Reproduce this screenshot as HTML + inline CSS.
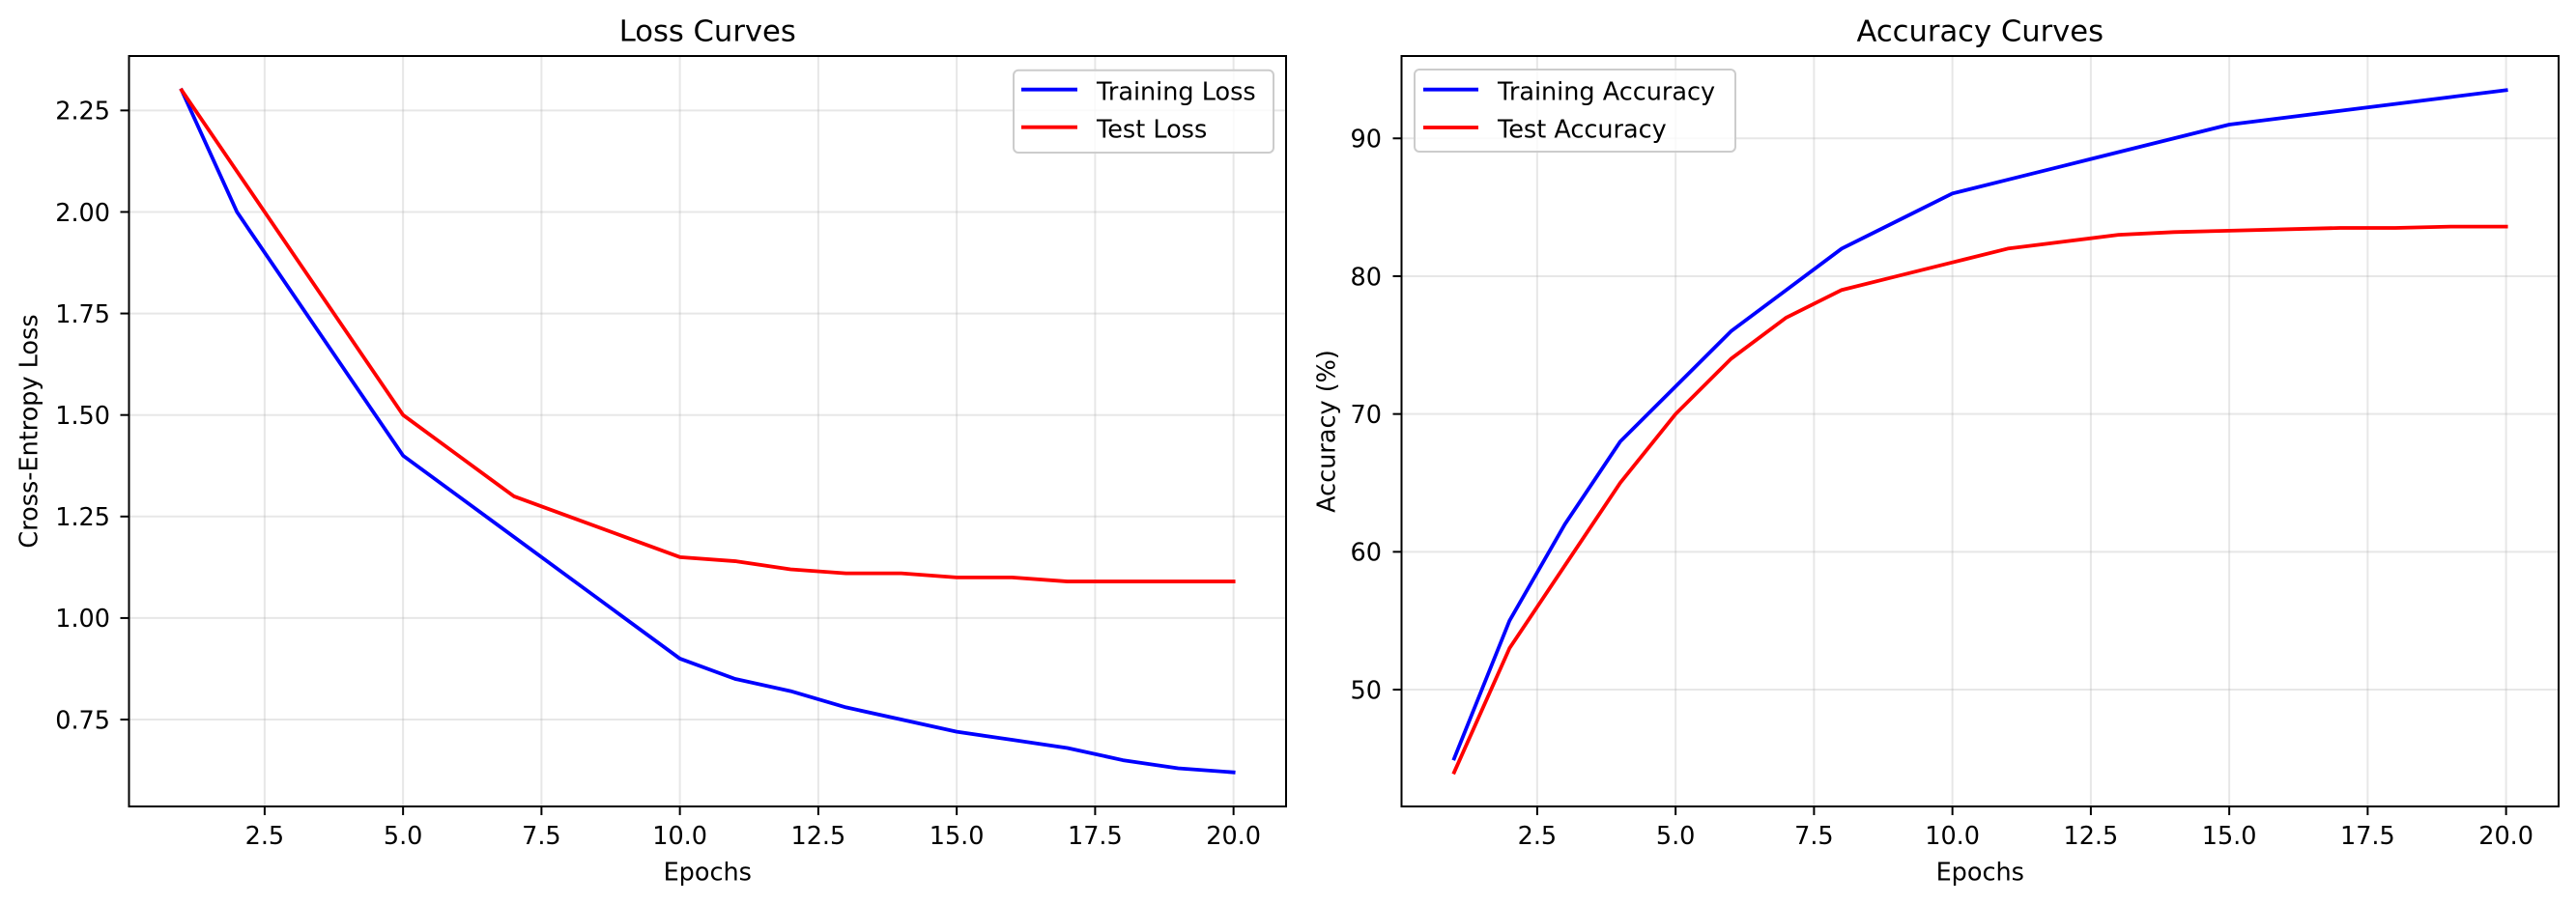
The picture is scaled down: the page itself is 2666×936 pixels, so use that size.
<!DOCTYPE html>
<html>
<head>
<meta charset="utf-8">
<style>
html,body{margin:0;padding:0;background:#fff;}
svg{display:block;}
text{font-family:"DejaVu Sans","Liberation Sans",sans-serif;fill:#000;}
</style>
</head>
<body>
<svg width="2666" height="936" viewBox="0 0 2666 936" xmlns="http://www.w3.org/2000/svg">
<rect width="2666" height="936" fill="#fff"/>

<!-- ============ LEFT PANEL ============ -->
<g stroke="#b0b0b0" stroke-opacity="0.3" stroke-width="2" fill="none">
  <line x1="273.89" y1="58" x2="273.89" y2="835"/>
  <line x1="417.14" y1="58" x2="417.14" y2="835"/>
  <line x1="560.39" y1="58" x2="560.39" y2="835"/>
  <line x1="703.64" y1="58" x2="703.64" y2="835"/>
  <line x1="846.89" y1="58" x2="846.89" y2="835"/>
  <line x1="990.14" y1="58" x2="990.14" y2="835"/>
  <line x1="1133.39" y1="58" x2="1133.39" y2="835"/>
  <line x1="1276.64" y1="58" x2="1276.64" y2="835"/>
  <line x1="133.5" y1="745.02" x2="1331" y2="745.02"/>
  <line x1="133.5" y1="639.91" x2="1331" y2="639.91"/>
  <line x1="133.5" y1="534.8" x2="1331" y2="534.8"/>
  <line x1="133.5" y1="429.69" x2="1331" y2="429.69"/>
  <line x1="133.5" y1="324.57" x2="1331" y2="324.57"/>
  <line x1="133.5" y1="219.46" x2="1331" y2="219.46"/>
  <line x1="133.5" y1="114.35" x2="1331" y2="114.35"/>
</g>

<polyline fill="none" stroke="#0000ff" stroke-width="3.8" stroke-linejoin="round" stroke-linecap="square"
 points="187.94,93.33 245.24,219.46 302.54,303.55 359.84,387.64 417.14,471.73 474.44,513.78 531.74,555.82 589.04,597.87 646.34,639.91 703.64,681.96 760.94,702.98 818.24,715.59 875.54,732.41 932.84,745.02 990.14,757.64 1047.44,766.05 1104.74,774.46 1162.04,787.07 1219.34,795.48 1276.64,799.68"/>
<polyline fill="none" stroke="#ff0000" stroke-width="3.8" stroke-linejoin="round" stroke-linecap="square"
 points="187.94,93.33 245.24,177.42 302.54,261.51 359.84,345.60 417.14,429.69 474.44,471.73 531.74,513.78 589.04,534.8 646.34,555.82 703.64,576.84 760.94,581.05 818.24,589.46 875.54,593.66 932.84,593.66 990.14,597.87 1047.44,597.87 1104.74,602.07 1162.04,602.07 1219.34,602.07 1276.64,602.07"/>

<rect x="133.5" y="58" width="1197.5" height="777" fill="none" stroke="#000" stroke-width="2"/>
<g stroke="#000" stroke-width="2">
  <line x1="273.89" y1="835" x2="273.89" y2="844"/>
  <line x1="417.14" y1="835" x2="417.14" y2="844"/>
  <line x1="560.39" y1="835" x2="560.39" y2="844"/>
  <line x1="703.64" y1="835" x2="703.64" y2="844"/>
  <line x1="846.89" y1="835" x2="846.89" y2="844"/>
  <line x1="990.14" y1="835" x2="990.14" y2="844"/>
  <line x1="1133.39" y1="835" x2="1133.39" y2="844"/>
  <line x1="1276.64" y1="835" x2="1276.64" y2="844"/>
  <line x1="124.5" y1="745.02" x2="133.5" y2="745.02"/>
  <line x1="124.5" y1="639.91" x2="133.5" y2="639.91"/>
  <line x1="124.5" y1="534.8" x2="133.5" y2="534.8"/>
  <line x1="124.5" y1="429.69" x2="133.5" y2="429.69"/>
  <line x1="124.5" y1="324.57" x2="133.5" y2="324.57"/>
  <line x1="124.5" y1="219.46" x2="133.5" y2="219.46"/>
  <line x1="124.5" y1="114.35" x2="133.5" y2="114.35"/>
</g>
<g font-size="25.5" text-anchor="middle">
  <text x="273.89" y="874">2.5</text>
  <text x="417.14" y="874">5.0</text>
  <text x="560.39" y="874">7.5</text>
  <text x="703.64" y="874">10.0</text>
  <text x="846.89" y="874">12.5</text>
  <text x="990.14" y="874">15.0</text>
  <text x="1133.39" y="874">17.5</text>
  <text x="1276.64" y="874">20.0</text>
</g>
<g font-size="25.5" text-anchor="end">
  <text x="114" y="754.3">0.75</text>
  <text x="114" y="649.2">1.00</text>
  <text x="114" y="544.1">1.25</text>
  <text x="114" y="439">1.50</text>
  <text x="114" y="333.9">1.75</text>
  <text x="114" y="228.8">2.00</text>
  <text x="114" y="123.7">2.25</text>
</g>
<text x="732.25" y="42.7" font-size="30.6" text-anchor="middle">Loss Curves</text>
<text x="732.25" y="911.7" font-size="25.5" text-anchor="middle">Epochs</text>
<text transform="translate(38.5,446.5) rotate(-90)" font-size="25.5" text-anchor="middle">Cross-Entropy Loss</text>

<!-- legend left -->
<rect x="1049" y="72.7" width="269" height="85.3" rx="5" ry="5" fill="#fff" fill-opacity="0.8" stroke="#cccccc" stroke-width="2"/>
<line x1="1057" y1="92.7" x2="1115" y2="92.7" stroke="#0000ff" stroke-width="3.8"/>
<line x1="1057" y1="131.7" x2="1115" y2="131.7" stroke="#ff0000" stroke-width="3.8"/>
<text x="1135" y="103.3" font-size="25.5">Training Loss</text>
<text x="1135" y="142.3" font-size="25.5">Test Loss</text>

<!-- ============ RIGHT PANEL ============ -->
<g stroke="#b0b0b0" stroke-opacity="0.3" stroke-width="2" fill="none">
  <line x1="1590.89" y1="58" x2="1590.89" y2="835"/>
  <line x1="1734.14" y1="58" x2="1734.14" y2="835"/>
  <line x1="1877.39" y1="58" x2="1877.39" y2="835"/>
  <line x1="2020.64" y1="58" x2="2020.64" y2="835"/>
  <line x1="2163.89" y1="58" x2="2163.89" y2="835"/>
  <line x1="2307.14" y1="58" x2="2307.14" y2="835"/>
  <line x1="2450.39" y1="58" x2="2450.39" y2="835"/>
  <line x1="2593.64" y1="58" x2="2593.64" y2="835"/>
  <line x1="1450.5" y1="714.06" x2="2648" y2="714.06"/>
  <line x1="1450.5" y1="571.36" x2="2648" y2="571.36"/>
  <line x1="1450.5" y1="428.66" x2="2648" y2="428.66"/>
  <line x1="1450.5" y1="285.96" x2="2648" y2="285.96"/>
  <line x1="1450.5" y1="143.26" x2="2648" y2="143.26"/>
</g>

<polyline fill="none" stroke="#0000ff" stroke-width="3.8" stroke-linejoin="round" stroke-linecap="square"
 points="1504.94,785.41 1562.24,642.71 1619.54,542.82 1676.84,457.20 1734.14,400.12 1791.44,343.04 1848.74,300.23 1906.04,257.42 1963.34,228.88 2020.64,200.34 2077.94,186.07 2135.24,171.80 2192.54,157.53 2249.84,143.26 2307.14,128.99 2364.44,121.86 2421.74,114.72 2479.04,107.59 2536.34,100.45 2593.64,93.32"/>
<polyline fill="none" stroke="#ff0000" stroke-width="3.8" stroke-linejoin="round" stroke-linecap="square"
 points="1504.94,799.68 1562.24,671.22 1619.54,585.60 1676.84,499.98 1734.14,428.66 1791.44,371.58 1848.74,328.77 1906.04,300.23 1963.34,285.96 2020.64,271.69 2077.94,257.42 2135.24,250.29 2192.54,243.15 2249.84,240.30 2307.14,238.87 2364.44,237.44 2421.74,236.02 2479.04,236.02 2536.34,234.59 2593.64,234.59"/>

<rect x="1450.5" y="58" width="1197.5" height="777" fill="none" stroke="#000" stroke-width="2"/>
<g stroke="#000" stroke-width="2">
  <line x1="1590.89" y1="835" x2="1590.89" y2="844"/>
  <line x1="1734.14" y1="835" x2="1734.14" y2="844"/>
  <line x1="1877.39" y1="835" x2="1877.39" y2="844"/>
  <line x1="2020.64" y1="835" x2="2020.64" y2="844"/>
  <line x1="2163.89" y1="835" x2="2163.89" y2="844"/>
  <line x1="2307.14" y1="835" x2="2307.14" y2="844"/>
  <line x1="2450.39" y1="835" x2="2450.39" y2="844"/>
  <line x1="2593.64" y1="835" x2="2593.64" y2="844"/>
  <line x1="1441.5" y1="714.06" x2="1450.5" y2="714.06"/>
  <line x1="1441.5" y1="571.36" x2="1450.5" y2="571.36"/>
  <line x1="1441.5" y1="428.66" x2="1450.5" y2="428.66"/>
  <line x1="1441.5" y1="285.96" x2="1450.5" y2="285.96"/>
  <line x1="1441.5" y1="143.26" x2="1450.5" y2="143.26"/>
</g>
<g font-size="25.5" text-anchor="middle">
  <text x="1590.89" y="874">2.5</text>
  <text x="1734.14" y="874">5.0</text>
  <text x="1877.39" y="874">7.5</text>
  <text x="2020.64" y="874">10.0</text>
  <text x="2163.89" y="874">12.5</text>
  <text x="2307.14" y="874">15.0</text>
  <text x="2450.39" y="874">17.5</text>
  <text x="2593.64" y="874">20.0</text>
</g>
<g font-size="25.5" text-anchor="end">
  <text x="1430" y="723.4">50</text>
  <text x="1430" y="580.7">60</text>
  <text x="1430" y="438">70</text>
  <text x="1430" y="295.3">80</text>
  <text x="1430" y="152.6">90</text>
</g>
<text x="2049.25" y="42.7" font-size="30.6" text-anchor="middle">Accuracy Curves</text>
<text x="2049.25" y="911.7" font-size="25.5" text-anchor="middle">Epochs</text>
<text transform="translate(1381.7,446.5) rotate(-90)" font-size="25.5" text-anchor="middle">Accuracy (%)</text>

<!-- legend right -->
<rect x="1464" y="72" width="332" height="85" rx="5" ry="5" fill="#fff" fill-opacity="0.8" stroke="#cccccc" stroke-width="2"/>
<line x1="1473" y1="92.7" x2="1530" y2="92.7" stroke="#0000ff" stroke-width="3.8"/>
<line x1="1473" y1="132" x2="1530" y2="132" stroke="#ff0000" stroke-width="3.8"/>
<text x="1550" y="103.3" font-size="25.5">Training Accuracy</text>
<text x="1550" y="142.6" font-size="25.5">Test Accuracy</text>
</svg>
</body>
</html>
